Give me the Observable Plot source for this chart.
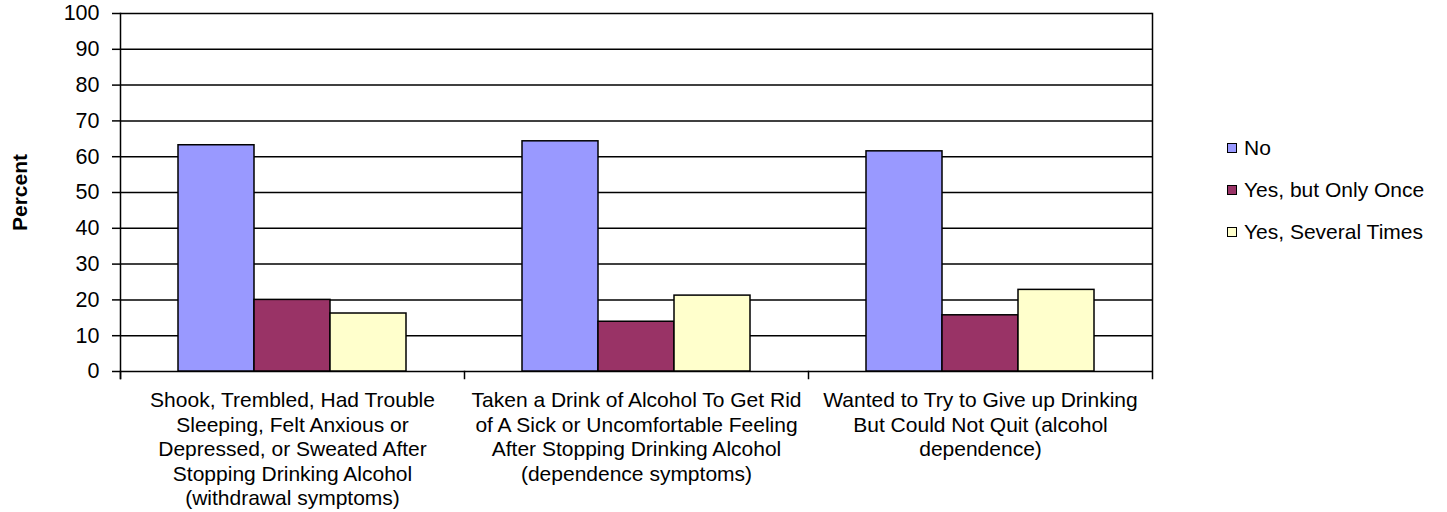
<!DOCTYPE html>
<html>
<head>
<meta charset="utf-8">
<script src="https://cdn.jsdelivr.net/npm/d3@7"></script>
<script src="https://cdn.jsdelivr.net/npm/@observablehq/plot@0.6"></script>
<style>
  html, body { margin: 0; padding: 0; background: #fff; }
  #wrap { position: relative; width: 1447px; height: 512px; font-family: "Liberation Sans", Arial, sans-serif; }
  #legend { position: absolute; left: 1227px; top: 137px; font-size: 21px; color: #000; }
  .item { display: flex; align-items: center; height: 21px; margin-bottom: 21px; white-space: nowrap; }
  .sw { width: 8px; height: 8px; border: 1.5px solid #000; margin-right: 7px; }
</style>
</head>
<body>
<div id="wrap"><div id="legend"></div></div>
<script>
const categories = [
  "Shook, Trembled, Had Trouble Sleeping, Felt Anxious or Depressed, or Sweated After Stopping Drinking Alcohol (withdrawal symptoms)",
  "Taken a Drink of Alcohol To Get Rid of A Sick or Uncomfortable Feeling After Stopping Drinking Alcohol (dependence symptoms)",
  "Wanted to Try to Give up Drinking But Could Not Quit (alcohol dependence)"
];
const categoryLabels = [
  "Shook, Trembled, Had Trouble\nSleeping, Felt Anxious or\nDepressed, or Sweated After\nStopping Drinking Alcohol\n(withdrawal symptoms)",
  "Taken a Drink of Alcohol To Get Rid\nof A Sick or Uncomfortable Feeling\nAfter Stopping Drinking Alcohol\n(dependence symptoms)",
  "Wanted to Try to Give up Drinking\nBut Could Not Quit (alcohol\ndependence)"
];
const series = ["No", "Yes, but Only Once", "Yes, Several Times"];
const noValues = [63.2, 64.3, 61.5];
const onceValues = [20.0, 13.9, 15.7];
const severalValues = [16.2, 21.2, 22.8];
const yTicks = [0, 10, 20, 30, 40, 50, 60, 70, 80, 90, 100];
const yLabel = "Percent";

const seriesValues = [noValues, onceValues, severalValues];
const data = categories.flatMap((c, i) =>
  series.map((s, j) => ({category: c, series: s, value: seriesValues[j][i]}))
);
const labelOf = new Map(categories.map((c, i) => [c, categoryLabels[i]]));
const palette = ["#9999FF", "#993366", "#FFFFCC"];

const chart = Plot.plot({
  width: 1447,
  height: 512,
  marginLeft: 119,
  marginRight: 294,
  marginTop: 13,
  marginBottom: 141,
  style: {fontFamily: "'Liberation Sans', Arial, sans-serif", fontSize: "21px", background: "white", color: "black"},
  fx: {domain: categories, padding: 0, label: null},
  x: {domain: series, paddingInner: 0, paddingOuter: 0.75, axis: null},
  y: {domain: [0, 100], label: null},
  color: {domain: series, range: palette},
  marks: [
    Plot.ruleY(yTicks, {stroke: "black", strokeWidth: 1.5}),
    Plot.barY(data, {fx: "category", x: "series", y: "value", fill: "series", stroke: "black", strokeWidth: 1.5}),
    Plot.frame({anchor: "left", facetAnchor: "left", insetBottom: -7, stroke: "black", strokeWidth: 1.5}),
    Plot.frame({anchor: "right", facetAnchor: "right", insetBottom: -7, stroke: "black", strokeWidth: 1.5}),
    Plot.frame({anchor: "left", insetTop: 358, insetBottom: -7, stroke: "black", strokeWidth: 1.5}),
    Plot.axisY({ticks: yTicks, tickSize: 8, tickPadding: 13, strokeWidth: 1.5, label: null, fontSize: 21.5}),
    Plot.text([yLabel], {frameAnchor: "left", textAnchor: "middle", dx: -100, rotate: -90, fontWeight: "bold", fontSize: 21, facetAnchor: "left"}),
    Plot.axisFx({anchor: "bottom", tickSize: 0, tickPadding: 18, label: null, tickFormat: d => labelOf.get(d), lineHeight: 1.17, lineWidth: Infinity, fontSize: 21})
  ]
});
document.getElementById("wrap").prepend(chart);

const legend = document.getElementById("legend");
series.forEach((s, i) => {
  const item = document.createElement("div");
  item.className = "item";
  const sw = document.createElement("span");
  sw.className = "sw";
  sw.style.background = palette[i];
  const t = document.createElement("span");
  t.textContent = s;
  item.append(sw, t);
  legend.append(item);
});
</script>
</body>
</html>
